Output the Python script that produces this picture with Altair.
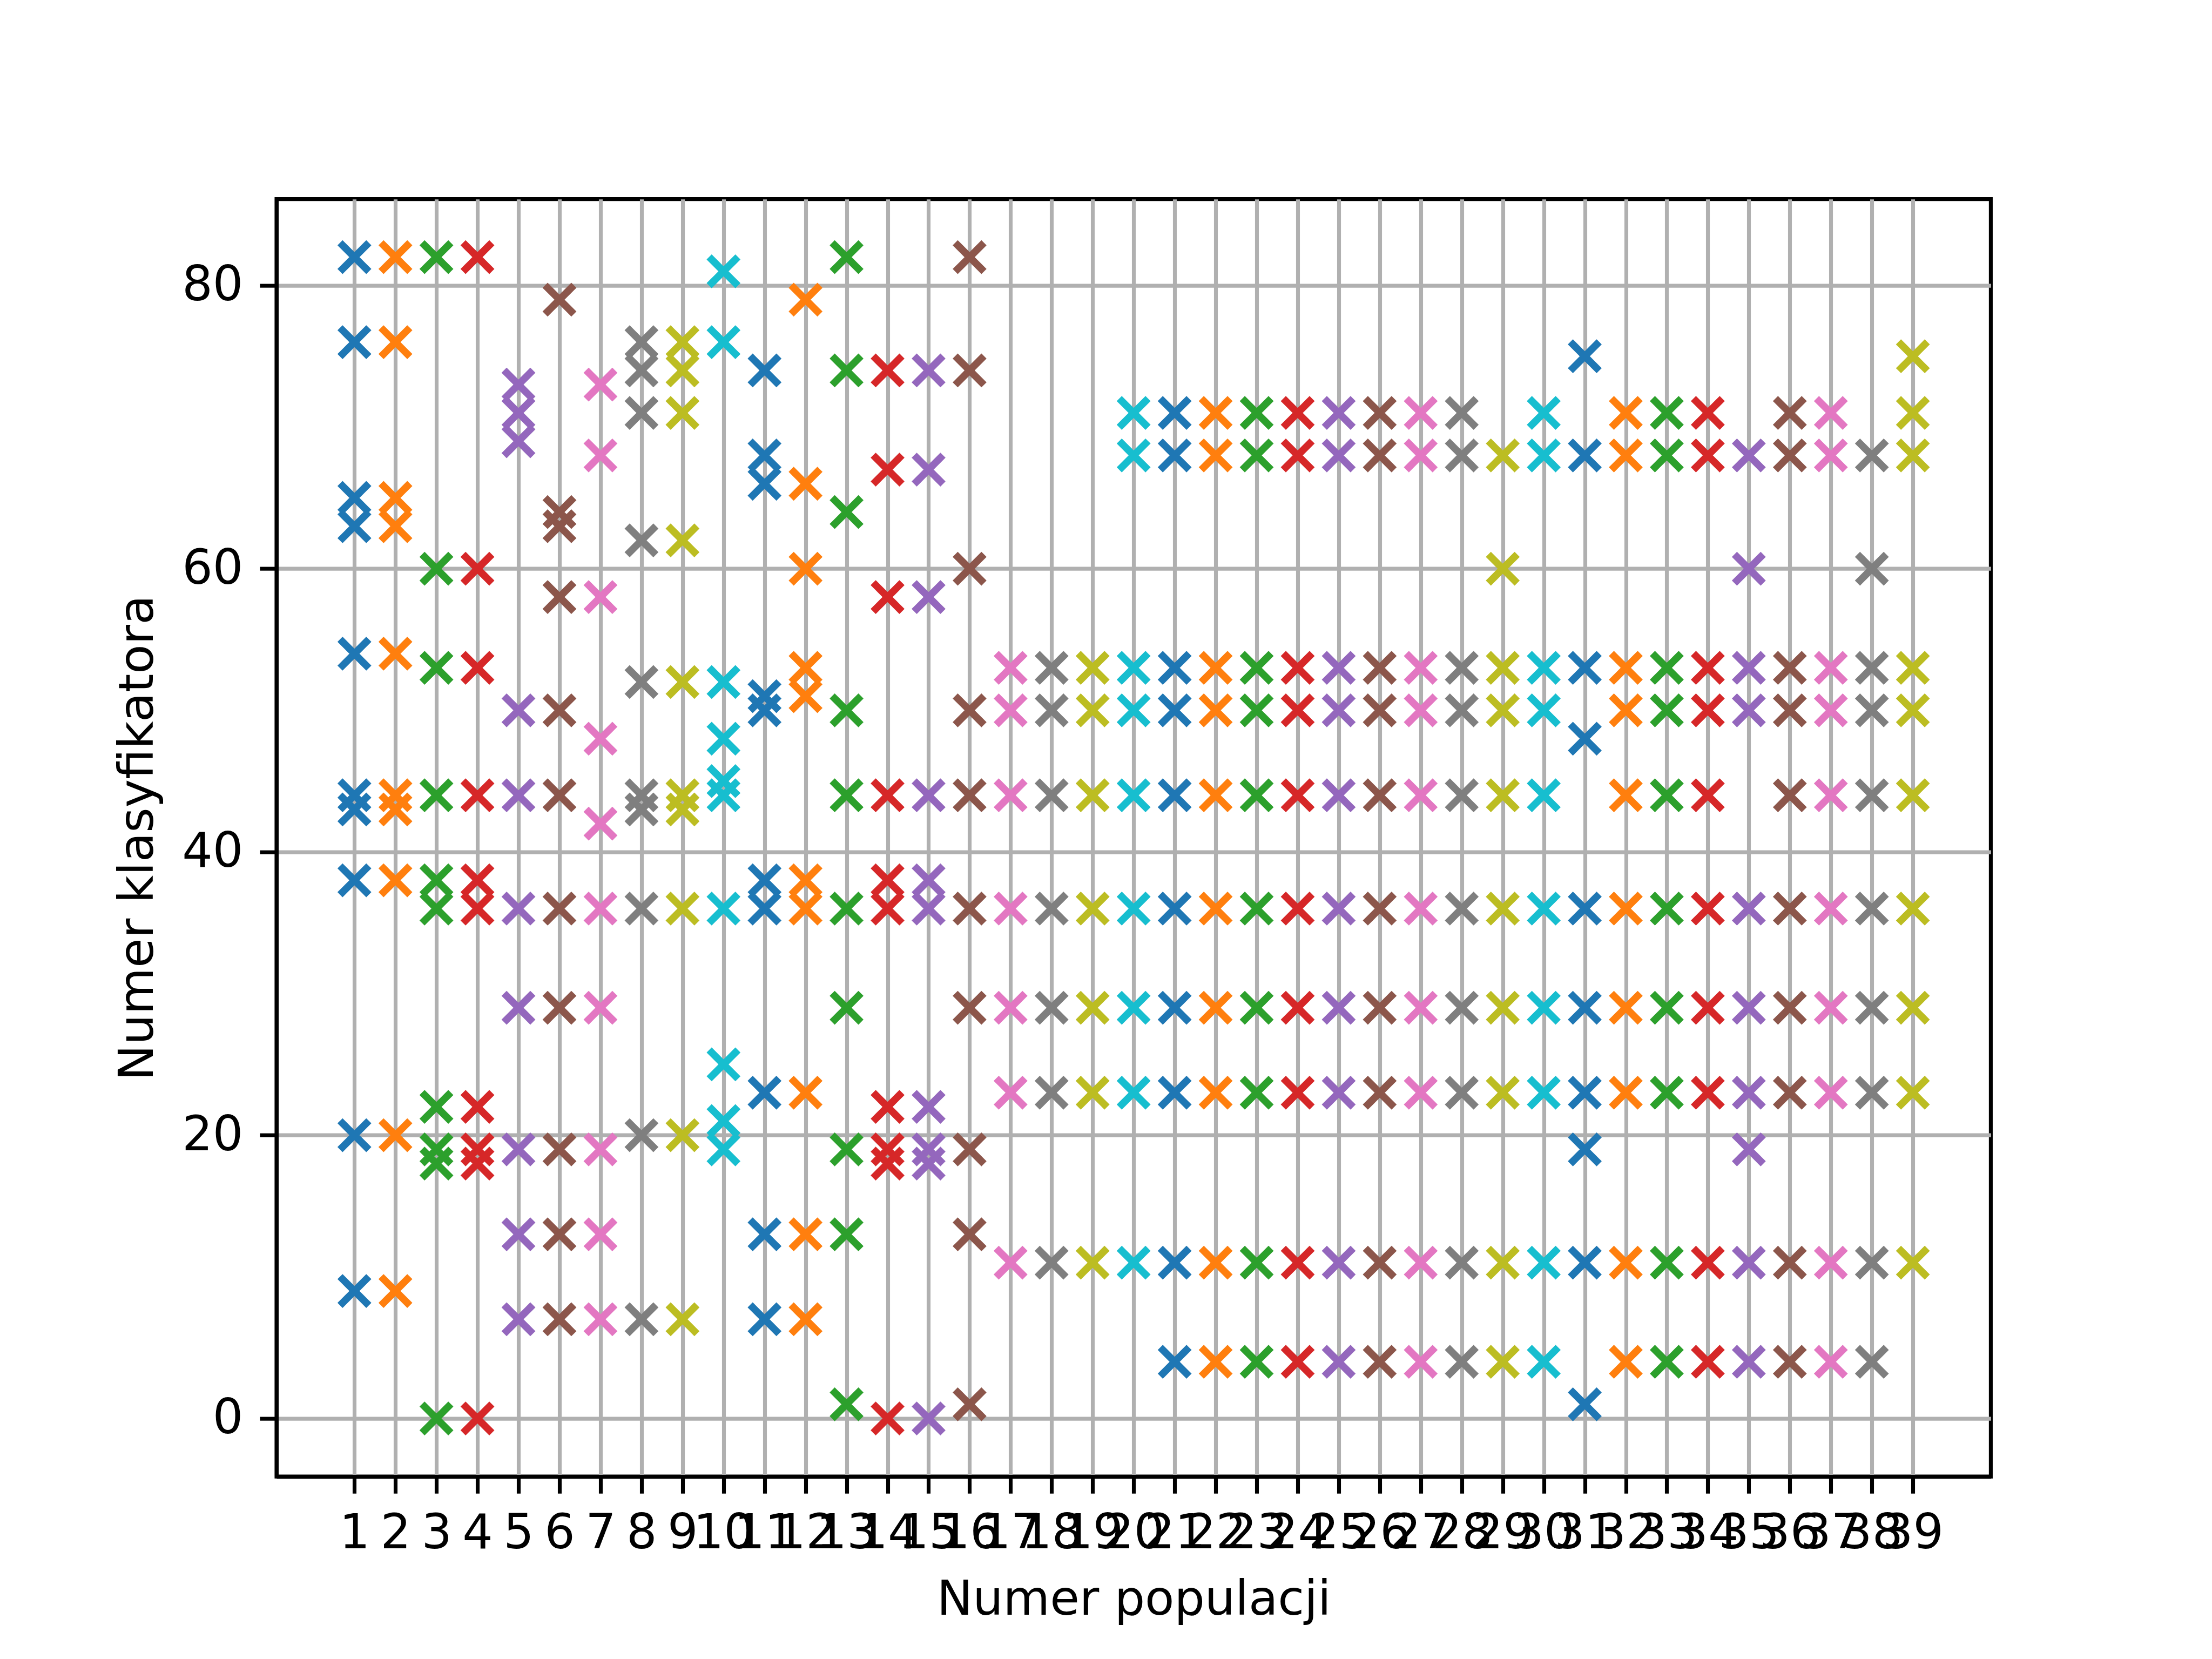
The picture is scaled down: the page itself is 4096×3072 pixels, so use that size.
import altair as alt
import pandas as pd

# Classifier numbers selected in each population (population number = list index + 1)
p01 = [82, 76, 65, 63, 54, 44, 43, 38, 20, 9]
p02 = [82, 76, 65, 63, 54, 44, 43, 38, 20, 9]
p03 = [82, 60, 53, 44, 38, 36, 22, 19, 18, 0]
p04 = [82, 60, 53, 44, 38, 36, 22, 19, 18, 0]
p05 = [73, 71, 69, 50, 44, 36, 29, 19, 13, 7]
p06 = [79, 64, 63, 58, 50, 44, 36, 29, 19, 13, 7]
p07 = [73, 68, 58, 48, 42, 36, 29, 19, 13, 7]
p08 = [76, 74, 71, 62, 52, 44, 43, 36, 20, 7]
p09 = [76, 74, 71, 62, 52, 44, 43, 36, 20, 7]
p10 = [81, 76, 52, 48, 45, 44, 36, 25, 21, 19]
p11 = [74, 68, 66, 51, 50, 38, 36, 23, 13, 7]
p12 = [79, 66, 60, 53, 51, 38, 36, 23, 13, 7]
p13 = [82, 74, 64, 50, 44, 36, 29, 19, 13, 1]
p14 = [74, 67, 58, 44, 38, 36, 22, 19, 18, 0]
p15 = [74, 67, 58, 44, 38, 36, 22, 19, 18, 0]
p16 = [82, 74, 60, 50, 44, 36, 29, 19, 13, 1]
p17 = [53, 50, 44, 36, 29, 23, 11]
p18 = [53, 50, 44, 36, 29, 23, 11]
p19 = [53, 50, 44, 36, 29, 23, 11]
p20 = [71, 68, 53, 50, 44, 36, 29, 23, 11]
p21 = [71, 68, 53, 50, 44, 36, 29, 23, 11, 4]
p22 = [71, 68, 53, 50, 44, 36, 29, 23, 11, 4]
p23 = [71, 68, 53, 50, 44, 36, 29, 23, 11, 4]
p24 = [71, 68, 53, 50, 44, 36, 29, 23, 11, 4]
p25 = [71, 68, 53, 50, 44, 36, 29, 23, 11, 4]
p26 = [71, 68, 53, 50, 44, 36, 29, 23, 11, 4]
p27 = [71, 68, 53, 50, 44, 36, 29, 23, 11, 4]
p28 = [71, 68, 53, 50, 44, 36, 29, 23, 11, 4]
p29 = [68, 60, 53, 50, 44, 36, 29, 23, 11, 4]
p30 = [71, 68, 53, 50, 44, 36, 29, 23, 11, 4]
p31 = [75, 68, 53, 48, 36, 29, 23, 19, 11, 1]
p32 = [71, 68, 53, 50, 44, 36, 29, 23, 11, 4]
p33 = [71, 68, 53, 50, 44, 36, 29, 23, 11, 4]
p34 = [71, 68, 53, 50, 44, 36, 29, 23, 11, 4]
p35 = [68, 60, 53, 50, 36, 29, 23, 19, 11, 4]
p36 = [71, 68, 53, 50, 44, 36, 29, 23, 11, 4]
p37 = [71, 68, 53, 50, 44, 36, 29, 23, 11, 4]
p38 = [68, 60, 53, 50, 44, 36, 29, 23, 11, 4]
p39 = [75, 71, 68, 53, 50, 44, 36, 29, 23, 11]

populations = [p01, p02, p03, p04, p05, p06, p07, p08, p09, p10,
               p11, p12, p13, p14, p15, p16, p17, p18, p19, p20,
               p21, p22, p23, p24, p25, p26, p27, p28, p29, p30,
               p31, p32, p33, p34, p35, p36, p37, p38, p39]

x_ticks = list(range(1, 40))
y_ticks = [0, 20, 40, 60, 80]

tab10 = ['#1f77b4', '#ff7f0e', '#2ca02c', '#d62728', '#9467bd',
         '#8c564b', '#e377c2', '#7f7f7f', '#bcbd22', '#17becf']

rows = []
for i, vals in enumerate(populations):
    for v in vals:
        rows.append({"pop": i + 1, "klas": v, "grp": str(i + 1), "order": i})
df = pd.DataFrame(rows)

color_domain = [str(i + 1) for i in range(len(populations))]
color_range = [tab10[i % 10] for i in range(len(populations))]

S = 0.8
PX = 800 / 72 * S  # one matplotlib point in target pixels
font = "DejaVu Sans"
fs = 10 * PX

W, H = 4096, 3072
left, right = 0.125 * W, 0.9 * W
top, bottom = 0.12 * H, 0.89 * H

chart = alt.Chart(df).mark_point(
    shape="M-1,-1L1,1M1,-1L-1,1",
    filled=False,
    strokeWidth=1.5 * PX,
    strokeCap="butt",
    size=(6 * PX) ** 2,
    opacity=1,
).encode(
    x=alt.X("pop:Q",
            scale=alt.Scale(domain=[-0.9, 40.9], nice=False, zero=False),
            axis=alt.Axis(values=x_ticks, title="Numer populacji", labelOverlap=False,
                          labelBound=False, labelFlush=False, format="d")),
    y=alt.Y("klas:Q",
            scale=alt.Scale(domain=[-4.1, 86.1], nice=False, zero=False),
            axis=alt.Axis(values=y_ticks, title="Numer klasyfikatora", labelOverlap=False,
                          labelBound=False, labelFlush=False, format="d")),
    color=alt.Color("grp:N", scale=alt.Scale(domain=color_domain, range=color_range), legend=None),
    order=alt.Order("order:Q"),
).properties(
    width=right - left,
    height=bottom - top,
    autosize=alt.AutoSizeParams(type="none"),
    padding={"left": left, "top": top, "right": W - right, "bottom": H - bottom},
    background="white",
).configure_axis(
    labelFont=font,
    labelFontSize=fs,
    labelColor="black",
    titleFont=font,
    titleFontSize=fs,
    titleFontWeight="normal",
    titleColor="black",
    titlePadding=4 * PX,
    tickSize=3.5 * PX,
    tickWidth=0.8 * PX,
    tickColor="black",
    labelPadding=3.5 * PX,
    domainColor="black",
    domainWidth=0.8 * PX,
    grid=True,
    gridColor="#b0b0b0",
    gridWidth=0.8 * PX,
    gridOpacity=1,
    zindex=1,
).configure_view(
    stroke="black",
    strokeWidth=0.8 * PX,
)

chart.save("out.html", embed_options={"renderer": "svg", "actions": False})
